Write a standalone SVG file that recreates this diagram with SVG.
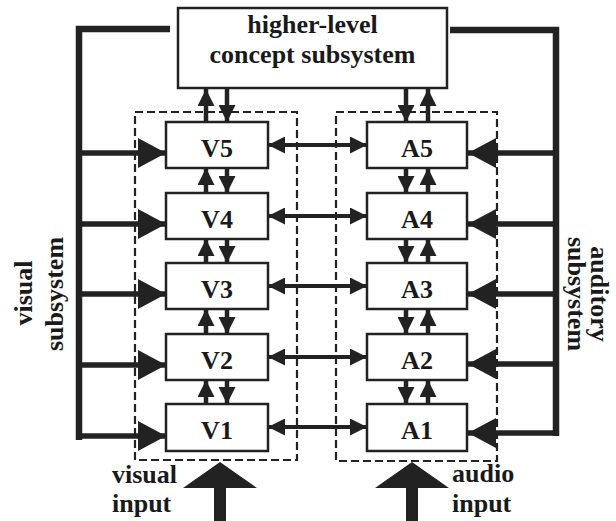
<svg xmlns="http://www.w3.org/2000/svg" width="616" height="521" viewBox="0 0 616 521">
<style>
.box{fill:#fff;stroke:#222;stroke-width:2.5}
.dash{fill:none;stroke:#222;stroke-width:2.2;stroke-dasharray:8 4}
.t{font-family:"Liberation Serif",serif;font-weight:bold;font-size:26px;fill:#1a1a1a}
.c{text-anchor:middle}
.sa{stroke:#222;stroke-width:4.5;fill:none;marker-end:url(#sm)}
.bi{stroke:#222;stroke-width:4;fill:none;marker-start:url(#sm);marker-end:url(#sm)}
.fb{stroke:#222;stroke-width:5.5;fill:none;marker-end:url(#lg)}
.ol{stroke:#222;stroke-width:6.5;fill:none}
.in{fill:#222}
</style>
<defs>
<marker id="sm" markerUnits="userSpaceOnUse" markerWidth="17" markerHeight="17" refX="17" refY="8.5" orient="auto-start-reverse">
<path d="M0,0 L17,8.5 L0,17 z" fill="#222"/>
</marker>
<marker id="lg" markerUnits="userSpaceOnUse" markerWidth="28" markerHeight="30" refX="28" refY="15" orient="auto">
<path d="M0,0 L28,15 L0,30 z" fill="#222"/>
</marker>
</defs>

<g id="visual-group">
<rect class="dash" x="135" y="112" width="162" height="348"/>
</g>
<g id="auditory-group">
<rect class="dash" x="336" y="112" width="161" height="349"/>
</g>

<g id="connectors">
<path class="ol" d="M170,29 H79 V440"/>
<path class="ol" d="M450,30 H556 V436"/>
<line class="fb" x1="79" y1="153" x2="166" y2="153"/>
<line class="fb" x1="79" y1="224" x2="166" y2="224"/>
<line class="fb" x1="79" y1="294" x2="166" y2="294"/>
<line class="fb" x1="79" y1="365" x2="166" y2="365"/>
<line class="fb" x1="79" y1="436" x2="166" y2="436"/>
<line class="fb" x1="556" y1="153" x2="468" y2="153"/>
<line class="fb" x1="556" y1="224" x2="468" y2="224"/>
<line class="fb" x1="556" y1="294" x2="468" y2="294"/>
<line class="fb" x1="556" y1="364" x2="468" y2="364"/>
<line class="fb" x1="556" y1="433" x2="468" y2="433"/>
<line class="bi" x1="268" y1="145" x2="367" y2="145"/>
<line class="bi" x1="268" y1="216" x2="367" y2="216"/>
<line class="bi" x1="268" y1="286" x2="367" y2="286"/>
<line class="bi" x1="268" y1="357" x2="367" y2="357"/>
<line class="bi" x1="268" y1="427" x2="367" y2="427"/>
<line class="sa" x1="206" y1="122" x2="206" y2="89"/>
<line class="sa" x1="227" y1="89" x2="227" y2="122"/>
<line class="sa" x1="206" y1="193" x2="206" y2="168"/>
<line class="sa" x1="227" y1="168" x2="227" y2="193"/>
<line class="sa" x1="206" y1="263" x2="206" y2="239"/>
<line class="sa" x1="227" y1="239" x2="227" y2="263"/>
<line class="sa" x1="206" y1="334" x2="206" y2="309"/>
<line class="sa" x1="227" y1="309" x2="227" y2="334"/>
<line class="sa" x1="206" y1="404" x2="206" y2="380"/>
<line class="sa" x1="227" y1="380" x2="227" y2="404"/>
<line class="sa" x1="406" y1="89" x2="406" y2="122"/>
<line class="sa" x1="428" y1="122" x2="428" y2="89"/>
<line class="sa" x1="406" y1="168" x2="406" y2="193"/>
<line class="sa" x1="428" y1="193" x2="428" y2="168"/>
<line class="sa" x1="406" y1="239" x2="406" y2="263"/>
<line class="sa" x1="428" y1="263" x2="428" y2="239"/>
<line class="sa" x1="406" y1="309" x2="406" y2="334"/>
<line class="sa" x1="428" y1="334" x2="428" y2="309"/>
<line class="sa" x1="406" y1="380" x2="406" y2="404"/>
<line class="sa" x1="428" y1="404" x2="428" y2="380"/>
<path class="in" d="M220,462 L257,488 L226,488 L226,521 L214,521 L214,488 L183,488 z"/>
<path class="in" d="M412,462 L449,488 L418,488 L418,521 L406,521 L406,488 L375,488 z"/>
</g>

<g id="concept">
<rect class="box" x="178" y="8" width="269" height="80"/>
<text class="t c" x="312.5" y="33">higher-level</text>
<text class="t c" x="312.5" y="63">concept subsystem</text>
</g>

<g id="V5"><rect class="box" x="166" y="122" width="102" height="46"/><text class="t c" x="217" y="157">V5</text></g>
<g id="V4"><rect class="box" x="166" y="193" width="102" height="46"/><text class="t c" x="217" y="228">V4</text></g>
<g id="V3"><rect class="box" x="166" y="263" width="102" height="46"/><text class="t c" x="217" y="298">V3</text></g>
<g id="V2"><rect class="box" x="166" y="334" width="102" height="46"/><text class="t c" x="217" y="369">V2</text></g>
<g id="V1"><rect class="box" x="166" y="404" width="102" height="47"/><text class="t c" x="217" y="439">V1</text></g>

<g id="A5"><rect class="box" x="367" y="122" width="100" height="46"/><text class="t c" x="417" y="157">A5</text></g>
<g id="A4"><rect class="box" x="367" y="193" width="100" height="46"/><text class="t c" x="417" y="228">A4</text></g>
<g id="A3"><rect class="box" x="367" y="263" width="100" height="46"/><text class="t c" x="417" y="298">A3</text></g>
<g id="A2"><rect class="box" x="367" y="334" width="100" height="46"/><text class="t c" x="417" y="369">A2</text></g>
<g id="A1"><rect class="box" x="367" y="404" width="100" height="47"/><text class="t c" x="417" y="439">A1</text></g>

<g id="labels">
<text class="t c" transform="translate(32,293) rotate(-90)">visual</text>
<text class="t c" transform="translate(63,294) rotate(-90)">subsystem</text>
<text class="t c" transform="translate(591,294) rotate(90)">auditory</text>
<text class="t c" transform="translate(568,294) rotate(90)">subsystem</text>
<text class="t" x="112" y="483">visual</text>
<text class="t" x="112" y="512">input</text>
<text class="t" x="452" y="482">audio</text>
<text class="t" x="452" y="512">input</text>
</g>
</svg>
